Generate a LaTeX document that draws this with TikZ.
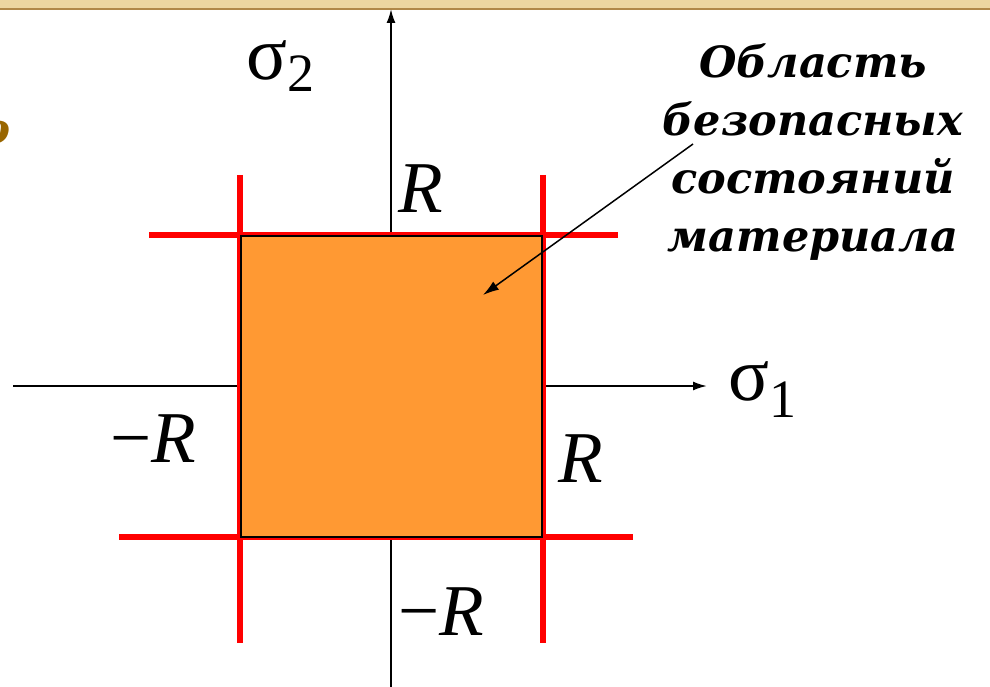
\documentclass[tikz,border=0pt]{standalone}
\usepackage{fontspec}
\setmainfont{Liberation Serif}
\newfontfamily\cyrfont{DejaVu Serif}
\usetikzlibrary{positioning,arrows.meta}
\definecolor{safeorange}{RGB}{255,153,51}
\definecolor{stripbeige}{RGB}{236,214,160}
\definecolor{stripbrown}{RGB}{176,136,72}
\definecolor{titlebrown}{RGB}{153,102,0}
\tikzset{
  axis/.style={line width=1.9pt, -{Latex[length=14pt,width=9pt]}},
  limit/.style={draw=red, line width=6pt},
  lbl/.style={inner sep=0pt, anchor=base west, font=\fontsize{73}{73}\selectfont\itshape},
  sig/.style={inner sep=0pt, anchor=base west, font=\fontsize{76}{76}\selectfont},
  note/.style={align=center, inner sep=0pt, font=\cyrfont\fontsize{43}{58}\selectfont\bfseries\itshape},
  flow/.style={-{Latex[length=16pt,width=10pt]}, line width=1.5pt},
}
\begin{document}
\begin{tikzpicture}[x=1pt, y=-1pt]
  \useasboundingbox (0,0) rectangle (990,687);
  % slide strip
  \fill[stripbeige] (0,0) rectangle (990,9);
  \draw[stripbrown, line width=2pt] (0,9) -- (990,9);
  \node[text=titlebrown, anchor=east, inner sep=0pt,
        font=\cyrfont\fontsize{42}{42}\selectfont\bfseries\itshape] (cut) at (11,133) {о};
  % axes
  \coordinate (o) at (391,386);
  \coordinate (ytop) at (391,9);
  \coordinate (ybot) at (391,687);
  \coordinate (xl) at (13,386);
  \coordinate (xr) at (707,386);
  \draw[axis] (ybot) -- (ytop);
  \draw[axis] (xl) -- (xr);
  % limits
  \draw[limit] (240,175) -- (240,643);
  \draw[limit] (543,175) -- (543,643);
  \draw[limit] (149,235) -- (618,235);
  \draw[limit] (119,537) -- (633,537);
  \filldraw[fill=safeorange, draw=black, line width=1.9pt] (241,236) rectangle (542,537);
  % labels
  \node[sig] (s2) at (246,80) {σ\raisebox{-12pt}{\fontsize{54}{54}\selectfont 2}};
  \node[sig] (s1) at (728,400) {σ\raisebox{-17pt}{\fontsize{54}{54}\selectfont 1}};
  \node[lbl] (rt) at (398,212) {R};
  \node[lbl] (rr) at (558,482) {R};
  \node[lbl] (rl) at (110,462) {\upshape−\itshape R};
  \node[lbl] (rb) at (398,635) {\upshape−\itshape R};
  \node[note] (zone) at (813,152) {Область\\безопасных\\состояний\\материала};
  \coordinate (from) at (693,144);
  \coordinate (tip) at (483,295);
  \draw[flow] (from) -- (tip);
\end{tikzpicture}
\end{document}
